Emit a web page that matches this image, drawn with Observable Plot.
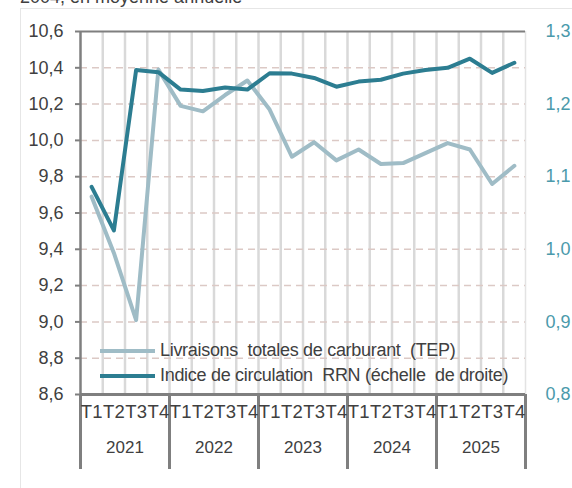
<!DOCTYPE html>
<html><head><meta charset="utf-8">
<script src="https://cdn.jsdelivr.net/npm/d3@7"></script>
<script src="https://cdn.jsdelivr.net/npm/@observablehq/plot@0.6"></script>
<style>
body{margin:0;background:#fff;font-family:"Liberation Sans",Arial,sans-serif;overflow:hidden;}
#wrap{position:relative;width:572px;height:488px;overflow:hidden;}
#title{position:absolute;left:20px;top:-13px;font-size:18px;color:#404040;white-space:nowrap;}
#frame{position:absolute;left:20px;top:8px;width:600px;height:600px;border-left:1.5px solid #e6e6e6;border-top:1.5px solid #e6e6e6;}
#chart{position:absolute;left:0;top:0;}
#legend{position:absolute;left:100px;top:338px;font-size:18px;color:#404040;letter-spacing:-0.3px;}
#legend div{display:flex;align-items:center;height:25px;white-space:pre;}
#legend span.sw{display:inline-block;width:55px;height:4px;margin-right:5px;}
</style></head>
<body><div id="wrap">
<div id="frame"></div>
<div id="title">2004, en moyenne annuelle</div>
<div id="chart"></div>
<div id="legend"></div>
</div>
<script>
const years = ["2021","2022","2023","2024","2025"];
const quarterLabels = ["T1","T2","T3","T4"];
const livraisons = [9.69,9.38,9.01,10.39,10.19,10.16,10.25,10.33,10.17,9.91,9.99,9.89,9.95,9.87,9.875,9.93,9.985,9.95,9.76,9.86];
const indiceRRN = [1.086,1.026,1.247,1.244,1.220,1.218,1.223,1.220,1.2425,1.242,1.236,1.224,1.231,1.2335,1.242,1.247,1.250,1.2625,1.243,1.257];
const leftTicks = [8.6,8.8,9.0,9.2,9.4,9.6,9.8,10.0,10.2,10.4,10.6];
const rightTicks = [0.8,0.9,1.0,1.1,1.2,1.3];
const seriesNames = ["Livraisons  totales de carburant  (TEP)","Indice de circulation  RRN (échelle  de droite)"];
const colLight = "#9fbcc6", colDark = "#2c7d91", colRight = "#4b9aab";

// right axis (0.8–1.3) mapped onto left scale (8.6–10.6)
const toLeft = r => (r + 1.35) * 4;
const fmt = (d, n) => d.toFixed(n).replace(".", ",");

const quarters = [];
years.forEach((y, yi) => quarterLabels.forEach((q, qi) => quarters.push({i: yi*4+qi, year: y, q})));
const dataL = quarters.map((d, k) => ({x: d.i + 0.5, v: livraisons[k]}));
const dataR = quarters.map((d, k) => ({x: d.i + 0.5, v: toLeft(indiceRRN[k])}));
const n = quarters.length;

const plot = Plot.plot({
  width: 572, height: 488,
  marginLeft: 80, marginRight: 47, marginTop: 31, marginBottom: 94,
  style: {fontFamily: "'Liberation Sans', Arial, sans-serif", fontSize: "18px", color: "#404040", background: "transparent"},
  x: {domain: [0, n], label: null},
  y: {domain: [8.6, 10.6], label: null},
  marks: [
    Plot.ruleX(d3.range(1, n), {stroke: "#d9d9d9", strokeWidth: 2.5}),
    Plot.ruleX([n], {stroke: "#e3e3e3", strokeWidth: 1.5}),
    Plot.ruleY(leftTicks.slice(1, -1), {stroke: "#dcc9c5", strokeWidth: 1.5, strokeDasharray: "7,5"}),
    Plot.ruleY([10.6], {stroke: "#7f7f7f", strokeWidth: 2}),
    Plot.axisY({ticks: leftTicks, label: null, tickSize: 5, tickPadding: 12, stroke: "#7f7f7f", strokeWidth: 2, tickFormat: d => fmt(d, 1), fill: "#404040"}),
    Plot.axisY({anchor: "right", label: null, ticks: rightTicks.map(toLeft), tickSize: 0, tickPadding: 20, fill: colRight, tickFormat: d => fmt(d/4 - 1.35, 1)}),
    Plot.axisX({ticks: d3.range(0, n + 1, 4), label: null, tickSize: 75, tickFormat: () => "", stroke: "#7f7f7f", strokeWidth: 3}),
    Plot.axisX({ticks: quarters.map(d => d.i + 0.5), label: null, tickSize: 0, tickPadding: 10, tickFormat: v => quarters[Math.floor(v)].q, fill: "#404040", fontSize: 18.5, letterSpacing: "-0.3px"}),
    Plot.axisX({ticks: years.map((y, k) => k*4 + 2), label: null, tickSize: 0, tickPadding: 46, tickFormat: v => years[(v - 2)/4], fill: "#404040", fontSize: 17}),
    Plot.ruleX([0], {stroke: "#7f7f7f", strokeWidth: 2.5}),
    Plot.ruleY([8.6], {stroke: "#7f7f7f", strokeWidth: 3}),
    Plot.line(dataL, {x: "x", y: "v", stroke: colLight, strokeWidth: 4}),
    Plot.line(dataR, {x: "x", y: "v", stroke: colDark, strokeWidth: 4})
  ]
});
document.getElementById("chart").appendChild(plot);

const leg = document.getElementById("legend");
[[seriesNames[0], colLight],[seriesNames[1], colDark]].forEach(([t, c]) => {
  const row = document.createElement("div");
  const sw = document.createElement("span"); sw.className = "sw"; sw.style.background = c;
  row.appendChild(sw); row.appendChild(document.createTextNode(t));
  leg.appendChild(row);
});
</script></body></html>
